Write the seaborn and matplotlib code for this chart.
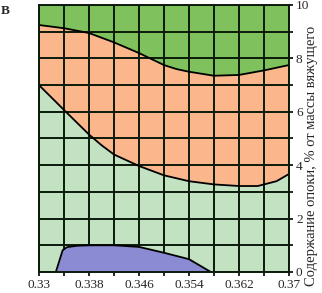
import numpy as np
import pandas as pd
import matplotlib
matplotlib.use("Agg")
import matplotlib.pyplot as plt
import seaborn as sns

# Data
x_upper = [0.330, 0.334, 0.338, 0.342, 0.346, 0.350, 0.352, 0.354, 0.358, 0.362, 0.366, 0.370]
y_upper = [9.25, 9.13, 8.95, 8.60, 8.20, 7.75, 7.60, 7.50, 7.35, 7.38, 7.55, 7.75]

x_lower = [0.330, 0.334, 0.338, 0.340, 0.342, 0.346, 0.350, 0.354, 0.358, 0.362, 0.365, 0.368, 0.370]
y_lower = [7.00, 6.07, 5.15, 4.75, 4.40, 3.97, 3.62, 3.40, 3.28, 3.22, 3.22, 3.40, 3.67]

x_blue = [0.3327, 0.3338, 0.3345, 0.336, 0.338, 0.342, 0.346, 0.350, 0.354, 0.3575]
y_blue = [0.00, 0.82, 0.93, 0.98, 1.00, 1.00, 0.94, 0.72, 0.48, 0.00]

x_ticks = [0.33, 0.338, 0.346, 0.354, 0.362, 0.37]
x_tick_labels = ["0.33", "0.338", "0.346", "0.354", "0.362", "0.37"]
y_ticks = [0, 2, 4, 6, 8, 10]
y_label = "Содержание опоки, % от массы вяжущего"
panel_letter = "В"

c_dark_green = "#7fc15c"
c_orange = "#fbb68c"
c_light_green = "#c2e2c2"
c_blue = "#8b8bd3"

sns.set_style("white")
plt.rcParams["font.family"] = ["Liberation Serif", "DejaVu Serif"]

fig = plt.figure(figsize=(3.22, 2.93), dpi=100)
ax = fig.add_axes([0.121, 0.0717, 0.7765, 0.9113])

xu = np.array(x_upper); yu = np.array(y_upper)
xl = np.array(x_lower); yl = np.array(y_lower)

ax.fill_between([0.33, 0.37], 0, 10, color=c_light_green, lw=0, zorder=0)
ax.fill_between(xu, yu, 10, color=c_dark_green, lw=0, zorder=1)
ax.fill_between(xu, 0, yu, color=c_orange, lw=0, zorder=1)
ax.fill_between(xl, 0, yl, color=c_light_green, lw=0, zorder=2)
ax.fill_between(x_blue, 0, y_blue, color=c_blue, lw=0, zorder=3)

df_u = pd.DataFrame({"x": x_upper, "y": y_upper})
df_l = pd.DataFrame({"x": x_lower, "y": y_lower})
df_b = pd.DataFrame({"x": x_blue, "y": y_blue})
for d in (df_u, df_l, df_b):
    sns.lineplot(data=d, x="x", y="y", ax=ax, color="black", lw=1.3, zorder=6, sort=False)

ax.set_xlim(0.33, 0.37)
ax.set_ylim(0, 10)
ax.set_xticks(np.arange(0.33, 0.37001, 0.004), minor=True)
ax.set_xticks(x_ticks)
ax.set_xticklabels(x_tick_labels, fontsize=9.5)
ax.set_yticks(np.arange(0, 10.01, 1), minor=True)
ax.set_yticks(y_ticks)
ax.set_yticklabels([str(v) for v in y_ticks], fontsize=9.5)
ax.yaxis.tick_right()
ax.set_xlabel("")
ax.set_ylabel("")
ax.grid(True, which="both", color="#0b1a0b", lw=1.4, zorder=5)
ax.set_axisbelow(False)
ax.tick_params(axis="both", which="both", direction="out", length=3, width=1.2,
               color="black", pad=2, bottom=True, right=True, left=False)
for s in ax.spines.values():
    s.set_color("#0b1a0b")
    s.set_linewidth(1.4)
    s.set_zorder(7)

fig.text(0.968, 0.468, y_label, rotation=90, fontsize=10.5, ha="center", va="center")
fig.text(0.003, 0.962, panel_letter, fontsize=9.5, fontweight="bold", ha="left", va="center")

fig.savefig("out.png", dpi=100)
